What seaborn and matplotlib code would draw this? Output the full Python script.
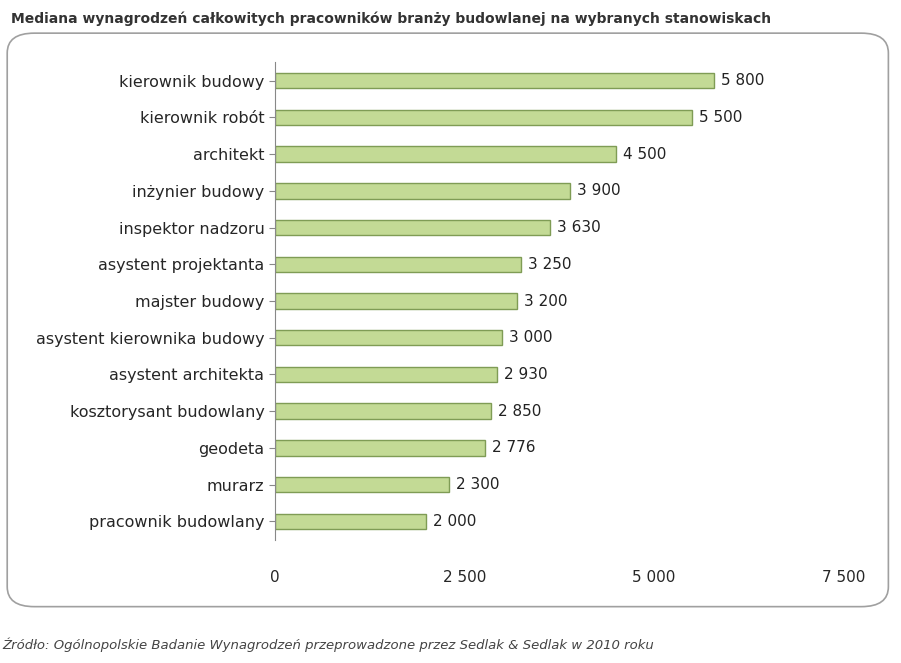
import matplotlib.pyplot as plt
import seaborn as sns
import pandas as pd
from matplotlib.patches import FancyBboxPatch

stanowiska = ['kierownik budowy', 'kierownik robót', 'architekt', 'inżynier budowy',
              'inspektor nadzoru', 'asystent projektanta', 'majster budowy',
              'asystent kierownika budowy', 'asystent architekta',
              'kosztorysant budowlany', 'geodeta', 'murarz', 'pracownik budowlany']
mediana = [5800, 5500, 4500, 3900, 3630, 3250, 3200, 3000, 2930, 2850, 2776, 2300, 2000]
ticks = [0, 2500, 5000, 7500]

def fmt(v):
    return f"{v:,}".replace(',', ' ')

df = pd.DataFrame({'stanowisko': stanowiska, 'mediana': mediana})

sns.set_style('white')
plt.rcParams['font.family'] = ['Verdana', 'DejaVu Sans']
fig = plt.figure(figsize=(9.01, 6.63), dpi=100)

# rounded frame
fig.patches.append(FancyBboxPatch((0.008, 0.085), 0.978, 0.865, boxstyle='round,pad=0,rounding_size=0.03',
                                  transform=fig.transFigure, fill=False, edgecolor='#a0a0a0', lw=1.2))

ax = fig.add_axes([0.305, 0.186, 0.631, 0.72])
sns.barplot(data=df, y='stanowisko', x='mediana', orient='h', color='#c3da95',
            edgecolor='#7f9c55', linewidth=1, width=0.42, ax=ax, saturation=1)
for i, v in enumerate(mediana):
    ax.text(v + 90, i, fmt(v), va='center', ha='left', fontsize=11, color='#222222')

ax.set_xlim(0, 7500)
ax.set_xticks(ticks)
ax.set_xticklabels([fmt(t) for t in ticks], fontsize=11)
ax.tick_params(axis='y', labelsize=11.5, length=4, left=True, color='#888888')
ax.tick_params(axis='x', length=0, pad=22)
ax.set_xlabel('')
ax.set_ylabel('')
for s in ['top', 'right', 'bottom']:
    ax.spines[s].set_visible(False)
ax.spines['left'].set_color('#888888')

fig.text(0.012, 0.972, 'Mediana wynagrodzeń całkowitych pracowników branży budowlanej na wybranych stanowiskach',
         fontsize=10, fontweight='bold', color='#333333', va='center')
fig.text(0.003, 0.027, 'Źródło: Ogólnopolskie Badanie Wynagrodzeń przeprowadzone przez Sedlak & Sedlak w 2010 roku',
         fontsize=9.5, style='italic', color='#444444', va='center')

fig.savefig('out.png', dpi=100)
